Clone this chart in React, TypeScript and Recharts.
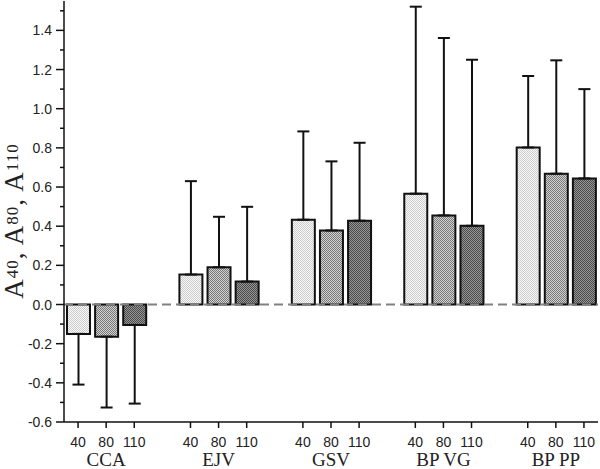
import React from "react";
import { BarChart, Bar, XAxis, YAxis, ErrorBar, ReferenceLine, Cell, Label } from "recharts";

const categories = ["CCA", "EJV", "GSV", "BP VG", "BP PP"];
const levels = ["40", "80", "110"];
const a40 = [-0.15, 0.153, 0.433, 0.566, 0.802];
const a80 = [-0.164, 0.19, 0.378, 0.455, 0.668];
const a110 = [-0.104, 0.117, 0.428, 0.402, 0.644];
const e40 = [0.259, 0.477, 0.451, 0.955, 0.365];
const e80 = [0.362, 0.258, 0.353, 0.906, 0.579];
const e110 = [0.402, 0.382, 0.398, 0.848, 0.456];
const yTicks = [-0.6, -0.5, -0.4, -0.3, -0.2, -0.1, 0, 0.1, 0.2, 0.3, 0.4, 0.5, 0.6, 0.7, 0.8, 0.9, 1.0, 1.1, 1.2, 1.3, 1.4, 1.5];

const values = [a40, a80, a110];
const errors = [e40, e80, e110];
const fills = ["url(#patLight)", "url(#patMid)", "url(#patDark)"];

type Row = { key: string; value: number | null; err?: number[]; lvl: number; group: string };
const rows: Row[] = [];
categories.forEach((cat, g) => {
  levels.forEach((lvl, i) => {
    const v = values[i][g];
    const e = errors[i][g];
    rows.push({ key: cat + "|" + lvl, value: v, err: v < 0 ? [e, 0] : [0, e], lvl: i, group: cat });
  });
  if (g < categories.length - 1) rows.push({ key: "gap" + g, value: null, lvl: -1, group: "" });
});

const XTick = (props: any) => {
  const { x, y, payload } = props;
  const key: string = String(payload.value);
  if (key.startsWith("gap")) return null;
  const [grp, lvl] = key.split("|");
  return (
    <g>
      <line x1={x} y1={y} x2={x} y2={y + 6} stroke="#111" strokeWidth={1.5} />
      <text x={x} y={y + 25} textAnchor="middle" fontFamily="Liberation Sans, Arial, sans-serif" fontSize={14} fill="#222">
        {lvl}
      </text>
      {lvl === "80" && (
        <text x={x} y={y + 44} textAnchor="middle" fontFamily="Liberation Serif, Times New Roman, serif" fontSize={19} fill="#222">
          {grp}
        </text>
      )}
    </g>
  );
};

const YTick = (props: any) => {
  const { x, y, payload } = props;
  const v: number = payload.value;
  const major = Math.round(v * 10) % 2 === 0;
  return (
    <g>
      <line x1={x - (major ? 8 : 4)} y1={y} x2={x} y2={y} stroke="#111" strokeWidth={1.5} />
      {major && (
        <text x={x - 12} y={y + 5} textAnchor="end" fontFamily="Liberation Sans, Arial, sans-serif" fontSize={14} fill="#222">
          {v.toFixed(1)}
        </text>
      )}
    </g>
  );
};

const YLabel = () => {
  const cx = 23;
  const cy = 221;
  return (
    <text
      x={cx}
      y={cy}
      transform={`rotate(-90 ${cx} ${cy})`}
      textAnchor="middle"
      fontFamily="Liberation Serif, Times New Roman, serif"
      fontSize={27}
      letterSpacing={1}
      fill="#222"
    >
      A
      <tspan fontSize={17} dy={-5}>40</tspan>
      <tspan dy={5}>, A</tspan>
      <tspan fontSize={17} dy={-5}>80</tspan>
      <tspan dy={5}>, A</tspan>
      <tspan fontSize={17} dy={-5}>110</tspan>
    </text>
  );
};

export default function App() {
  return (
    <div style={{ position: "absolute", left: 0, top: 0, width: 600, height: 469, background: "#fff" }}>
      <svg width={0} height={0} style={{ position: "absolute" }}>
        <defs>
          <pattern id="patLight" width={2} height={2} patternUnits="userSpaceOnUse">
            <rect width={2} height={2} fill="#f8f8f8" />
            <rect width={1} height={1} fill="#cccccc" />
            <rect x={1} y={1} width={1} height={1} fill="#cccccc" />
          </pattern>
          <pattern id="patMid" width={2} height={2} patternUnits="userSpaceOnUse">
            <rect width={2} height={2} fill="#d0d0d0" />
            <rect width={1} height={1} fill="#7a7a7a" />
            <rect x={1} y={1} width={1} height={1} fill="#7a7a7a" />
          </pattern>
          <pattern id="patDark" width={2} height={2} patternUnits="userSpaceOnUse">
            <rect width={2} height={2} fill="#969696" />
            <rect width={1} height={1} fill="#4a4a4a" />
            <rect x={1} y={1} width={1} height={1} fill="#4a4a4a" />
          </pattern>
        </defs>
      </svg>
      <BarChart width={600} height={469} data={rows} margin={{ top: 1, right: 2, bottom: 0, left: 0 }} barSize={23}>
        <XAxis
          dataKey="key"
          interval={0}
          tick={<XTick />}
          tickLine={false}
          tickSize={0}
          tickMargin={0}
          height={47}
          axisLine={{ stroke: "#111", strokeWidth: 1.5 }}
        />
        <YAxis
          type="number"
          domain={[-0.6, 1.55]}
          ticks={yTicks}
          interval={0}
          allowDataOverflow
          tick={<YTick />}
          tickLine={false}
          tickSize={0}
          tickMargin={0}
          width={64}
          axisLine={{ stroke: "#111", strokeWidth: 1.5 }}
        >
          <Label content={<YLabel />} />
        </YAxis>
        <ReferenceLine y={0} stroke="#808080" strokeWidth={2} strokeDasharray="9 5" />
        <Bar dataKey="value" isAnimationActive={false} stroke="#111" strokeWidth={2}>
          {rows.map((r, i) => (
            <Cell key={i} fill={r.lvl >= 0 ? fills[r.lvl] : "none"} stroke={r.lvl >= 0 ? "#111" : "none"} />
          ))}
          <ErrorBar dataKey="err" direction="y" width={6} stroke="#111" strokeWidth={2} isAnimationActive={false} />
        </Bar>
      </BarChart>
    </div>
  );
}
